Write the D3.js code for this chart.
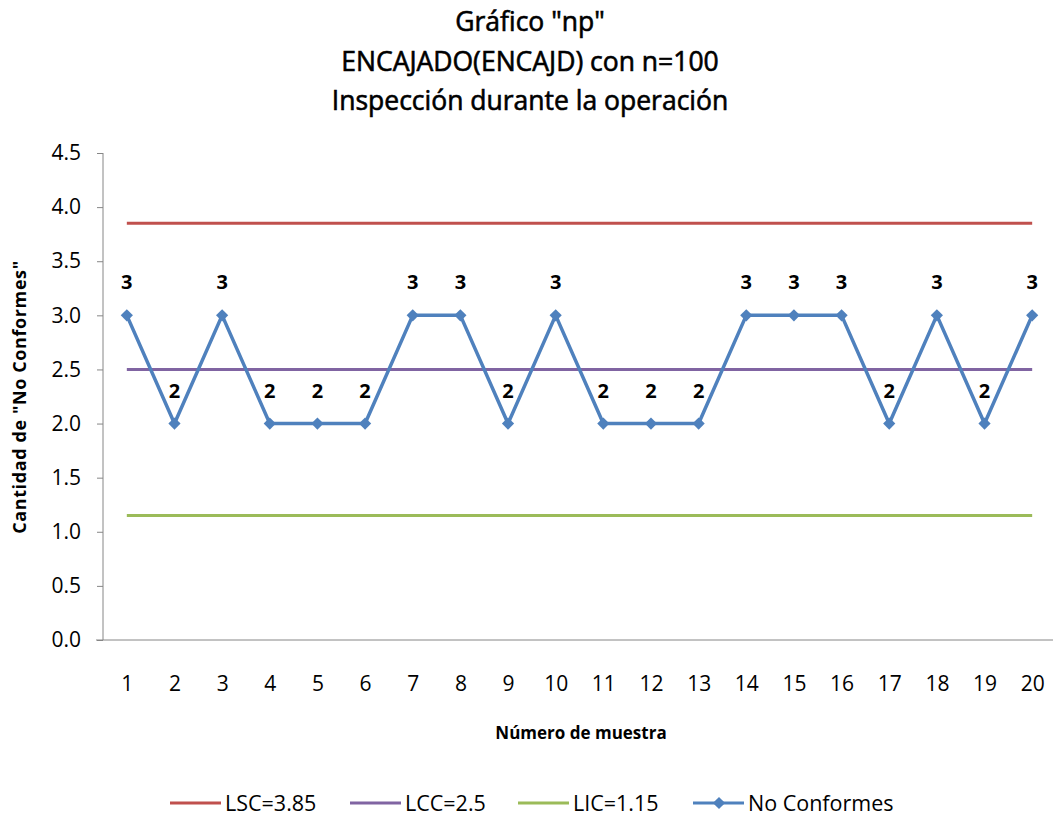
<!DOCTYPE html>
<html>
<head>
<meta charset="utf-8">
<script src="https://cdn.jsdelivr.net/npm/d3@7"></script>
<style>
  body { margin: 0; background: #fff; }
  text { font-family: "Open Sans", Lato, sans-serif; fill: #000; }
</style>
</head>
<body>
<div id="chart"></div>
<script>
// data
var muestras = ["1","2","3","4","5","6","7","8","9","10","11","12","13","14","15","16","17","18","19","20"];
var noConformes = [3,2,3,2,2,2,3,3,2,3,2,2,2,3,3,3,2,3,2,3];
var LSC = 3.85, LCC = 2.5, LIC = 1.15;
var yTicks = [0,0.5,1,1.5,2,2.5,3,3.5,4,4.5];
var titleLines = ['Gráfico "np"', 'ENCAJADO(ENCAJD) con n=100', 'Inspección durante la operación'];

function chart() {
    var w = 1053, h = 816;
    var left = 103, right = 1056, top = 153, bottom = 640;

    var svg = d3.select("#chart").append("svg")
        .attr("width", w).attr("height", h);

    var xScale = d3.scalePoint().domain(muestras).range([left, right]).padding(0.5);
    var yScale = d3.scaleLinear().domain([0, 4.5]).range([bottom, top]);

    // title
    svg.append("g").selectAll("text")
        .data(titleLines).enter().append("text")
        .attr("x", 530)
        .attr("y", function(d, i) { return 31 + i * 39.5; })
        .attr("text-anchor", "middle")
        .style("font-size", "26.5px")
        .style("stroke", "#000").style("stroke-width", "0.6px")
        .text(function(d) { return d; });

    // y axis
    var yAxis = d3.axisLeft(yScale).tickValues(yTicks).tickSize(6).tickPadding(16)
        .tickFormat(d3.format(".1f"));
    var gy = svg.append("g").attr("transform", "translate(" + left + ",0)").call(yAxis);
    gy.select(".domain").attr("stroke", "#868686").attr("d", "M0," + top + "V" + bottom);
    gy.selectAll(".tick line").attr("stroke", "#868686");
    gy.selectAll(".tick text").style("font-size", "21px").style("font-family", '"Open Sans", sans-serif').attr("fill", "#000");

    // x axis
    var xAxis = d3.axisBottom(xScale).tickSize(0).tickPadding(36);
    var gx = svg.append("g").attr("transform", "translate(0," + bottom + ")").call(xAxis);
    gx.select(".domain").attr("stroke", "#868686").attr("d", "M" + (left - 7) + ",0H" + right);
    gx.selectAll(".tick text").style("font-size", "21px").style("font-family", '"Open Sans", sans-serif').attr("fill", "#000");

    // axis titles
    svg.append("text")
        .attr("transform", "translate(26,397) rotate(-90)")
        .attr("text-anchor", "middle")
        .style("font-size", "18px").style("font-weight", "bold")
        .style("letter-spacing", "0.6px")
        .text('Cantidad de "No Conformes"');
    svg.append("text")
        .attr("x", 581).attr("y", 739)
        .attr("text-anchor", "middle")
        .style("font-size", "17px").style("font-weight", "bold")
        .text("Número de muestra");

    // control limits
    var limits = [
        {name: "LSC=3.85", value: LSC, color: "#C0504D"},
        {name: "LCC=2.5", value: LCC, color: "#8064A2"},
        {name: "LIC=1.15", value: LIC, color: "#9BBB59"}
    ];
    var x0 = xScale(muestras[0]), x1 = xScale(muestras[muestras.length - 1]);
    svg.append("g").selectAll("line")
        .data(limits).enter().append("line")
        .attr("x1", x0).attr("x2", x1)
        .attr("y1", function(d) { return yScale(d.value); })
        .attr("y2", function(d) { return yScale(d.value); })
        .attr("stroke", function(d) { return d.color; })
        .attr("stroke-width", 3);

    // No Conformes line
    var line = d3.line()
        .x(function(d, i) { return xScale(muestras[i]); })
        .y(function(d) { return yScale(d); });
    svg.append("path")
        .datum(noConformes)
        .attr("d", line)
        .attr("fill", "none")
        .attr("stroke", "#4F81BD")
        .attr("stroke-width", 3.5)
        .attr("stroke-linejoin", "round");

    var diamond = d3.symbol().type(d3.symbolDiamond2).size(95);
    svg.append("g").selectAll("path")
        .data(noConformes).enter().append("path")
        .attr("d", diamond)
        .attr("transform", function(d, i) {
            return "translate(" + xScale(muestras[i]) + "," + yScale(d) + ")";
        })
        .attr("fill", "#4F81BD");

    svg.append("g").selectAll("text")
        .data(noConformes).enter().append("text")
        .attr("x", function(d, i) { return xScale(muestras[i]); })
        .attr("y", function(d) { return yScale(d) - 26; })
        .attr("text-anchor", "middle")
        .style("font-size", "20px").style("font-weight", "bold")
        .text(function(d) { return d; });

    // legend
    var legend = [
        {name: "LSC=3.85", color: "#C0504D", x: 170, marker: false},
        {name: "LCC=2.5", color: "#8064A2", x: 350, marker: false},
        {name: "LIC=1.15", color: "#9BBB59", x: 518, marker: false},
        {name: "No Conformes", color: "#4F81BD", x: 693, marker: true}
    ];
    var lg = svg.append("g").selectAll("g")
        .data(legend).enter().append("g")
        .attr("transform", function(d) { return "translate(" + d.x + ",803)"; });
    lg.append("line")
        .attr("x1", 0).attr("x2", 51).attr("y1", 0).attr("y2", 0)
        .attr("stroke", function(d) { return d.color; })
        .attr("stroke-width", 3);
    lg.filter(function(d) { return d.marker; }).append("path")
        .attr("d", diamond)
        .attr("transform", "translate(26,0)")
        .attr("fill", function(d) { return d.color; });
    lg.append("text")
        .attr("x", 55).attr("y", 8)
        .style("font-size", "21.5px")
        .text(function(d) { return d.name; });
}

chart();
</script>
</body>
</html>
